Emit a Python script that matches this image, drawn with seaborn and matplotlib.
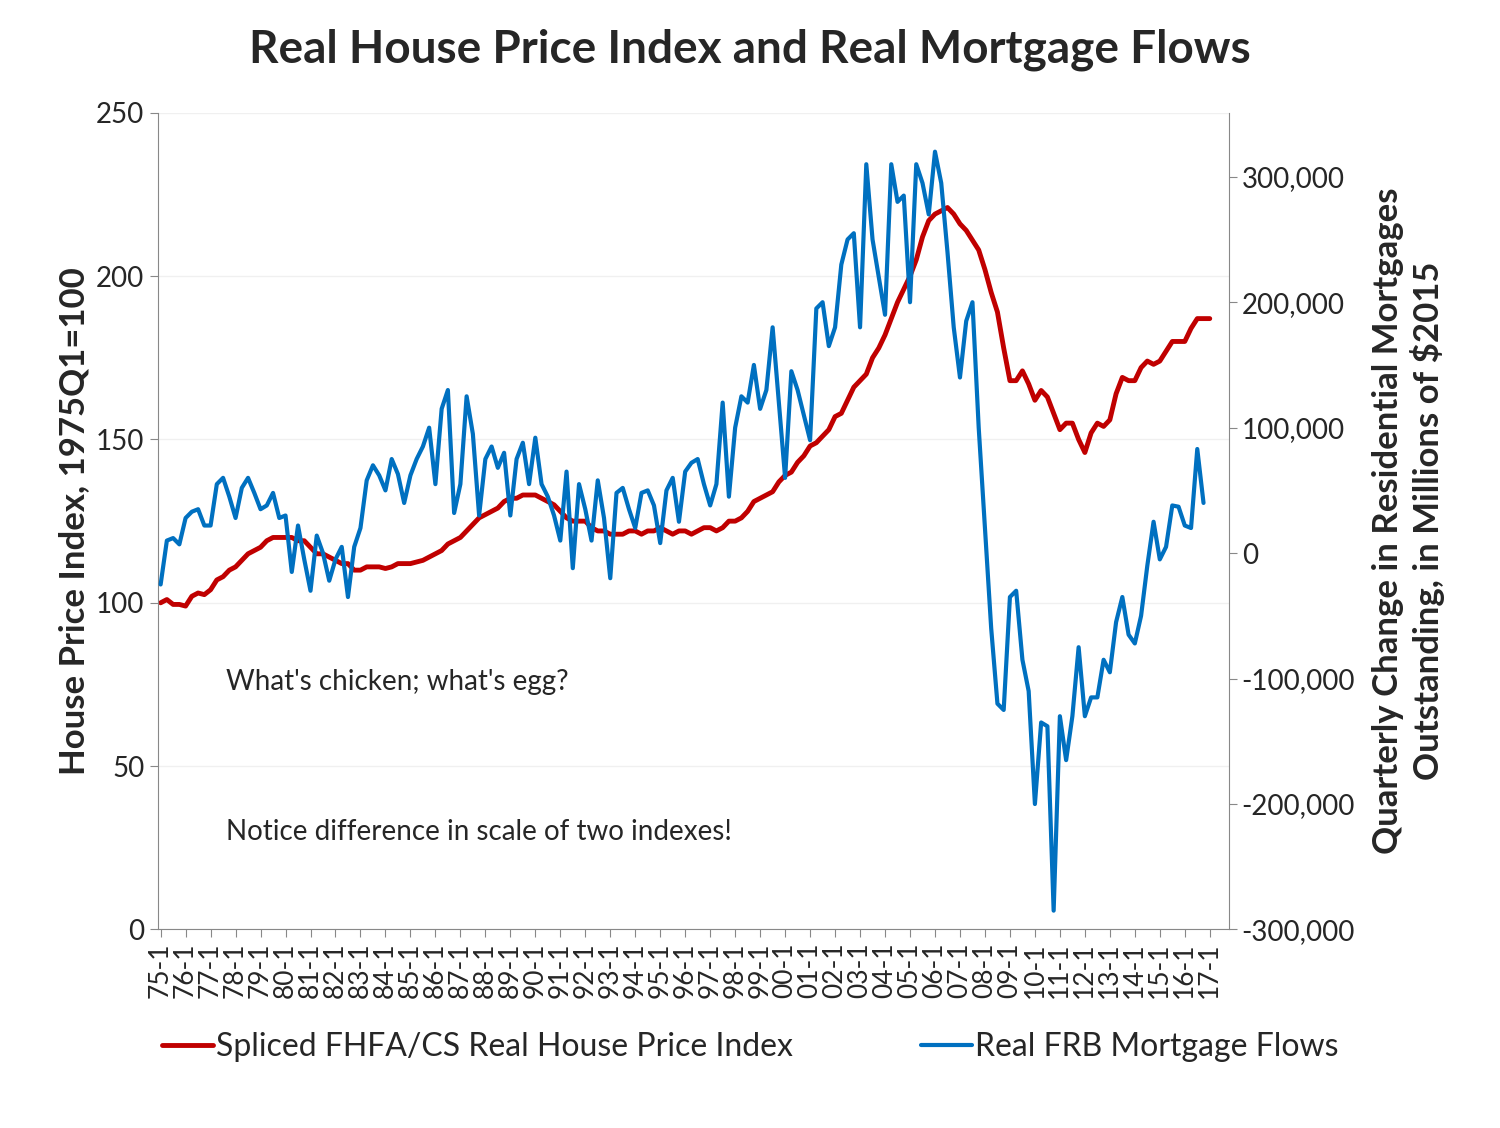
import matplotlib
matplotlib.use('Agg')
import matplotlib.pyplot as plt
import seaborn as sns
import pandas as pd
import numpy as np

# quarterly, 1975Q1 .. 2017Q1
hpi = [100, 101, 99.5, 99.5, 99, 102, 103, 102.5, 104, 107, 108, 110,
       111, 113, 115, 116, 117, 119, 120, 120, 120, 120, 119, 119,
       117, 115, 115, 114, 113, 112, 112, 110, 110, 111, 111, 111,
       110.5, 111, 112, 112, 112, 112.5, 113, 114, 115, 116, 118, 119,
       120, 122, 124, 126, 127, 128, 129, 131, 132, 132, 133, 133,
       133, 132, 131, 130, 128, 126, 125, 125, 125, 123, 122, 122,
       121, 121, 121, 122, 122, 121, 122, 122, 123, 122, 121, 122,
       122, 121, 122, 123, 123, 122, 123, 125, 125, 126, 128, 131,
       132, 133, 134, 137, 139, 140, 143, 145, 148, 149, 151, 153,
       157, 158, 162, 166, 168, 170, 175, 178, 182, 187, 192, 196,
       200, 205, 212, 217, 219, 220, 221, 219, 216, 214, 211, 208,
       202, 195, 189, 178, 168, 168, 171, 167, 162, 165, 163, 158,
       153, 155, 155, 150, 146, 152, 155, 154, 156, 164, 169, 168,
       168, 172, 174, 173, 174, 177, 180, 180, 180, 184, 187, 187,
       187]

# thousands of 2015 dollars, 1975Q1 .. 2016Q4
flows = [-25, 10, 12, 7, 28, 33, 35, 22, 22, 55, 60, 45, 28, 52, 60, 48,
         35, 38, 48, 28, 30, -15, 22, -5, -30, 14, 0, -22, -5, 5, -35, 5,
         20, 58, 70, 62, 50, 75, 63, 40, 62, 75, 85, 100, 55, 115, 130, 32,
         55, 125, 95, 30, 75, 85, 68, 80, 30, 75, 88, 55, 92, 55, 45, 30,
         10, 65, -12, 55, 35, 10, 58, 28, -20, 48, 52, 35, 20, 48, 50, 38,
         8, 50, 60, 25, 65, 72, 75, 55, 38, 55, 120, 45, 100, 125, 120, 150,
         115, 130, 180, 120, 60, 145, 130, 110, 90, 195, 200, 165,
         180, 230, 250, 255, 180, 310, 250, 220, 190, 310, 280, 285,
         200, 310, 295, 270, 320, 295, 240, 180, 140, 185, 200, 100,
         20, -60, -120, -125, -35, -30, -85, -110, -200, -135, -138, -285,
         -130, -165, -130, -75, -130, -115, -115, -85, -95, -55, -35, -65,
         -72, -50, -10, 25, -5, 5, 38, 37, 22, 20, 83, 40]

tick_labels = ['%02d-1' % (y % 100) for y in range(1975, 2018)]

df_hpi = pd.DataFrame({'q': np.arange(len(hpi)), 'v': hpi})
df_fl = pd.DataFrame({'q': np.arange(len(flows)), 'v': np.array(flows) * 1000})

sns.set_style('white')
plt.rcParams['font.family'] = ['Lato', 'DejaVu Sans']

fig = plt.figure(figsize=(15, 11.28), dpi=100)
ax = fig.add_axes([0.105, 0.176, 0.714, 0.724])
ax2 = ax.twinx()

red, blue = '#C00000', '#0070C0'
sns.lineplot(data=df_hpi, x='q', y='v', ax=ax, color=red, lw=3.5,
             label='Spliced FHFA/CS Real House Price Index', legend=False)
sns.lineplot(data=df_fl, x='q', y='v', ax=ax2, color=blue, lw=3,
             label='Real FRB Mortgage Flows', legend=False)

ax.set_ylim(0, 250)
ax.set_yticks(range(0, 251, 50))
ax2.set_ylim(-300000, 351000)
ax2.set_yticks(range(-300000, 300001, 100000))
ax2.set_yticklabels(['{:,}'.format(v) for v in range(-300000, 300001, 100000)])
ax.set_xlim(-0.5, 171)
ax.set_xticks(np.arange(0, 169, 4))
ax.set_xticklabels(tick_labels, rotation=90)
ax.yaxis.grid(True, color='#F0F0F0', lw=1)

for a in (ax, ax2):
    a.tick_params(labelsize=20, length=6, color='#888888', direction='out')
    for s in a.spines.values():
        s.set_visible(False)
ax.tick_params(axis='x', labelsize=19)
ax.spines['left'].set_visible(True)
ax.spines['bottom'].set_visible(True)
ax2.spines['right'].set_visible(True)
for s in (ax.spines['left'], ax.spines['bottom'], ax2.spines['right']):
    s.set_color('#888888')
ax.tick_params(axis='y', left=True)
ax.tick_params(axis='x', bottom=True)
ax2.tick_params(axis='y', right=True)

ax.set_xlabel('')
ax.set_ylabel('House Price Index, 1975Q1=100', fontsize=25, fontweight='bold')
ax2.set_ylabel('Quarterly Change in Residential Mortgages\nOutstanding, in Millions of $2015',
               fontsize=25, fontweight='bold', labelpad=12)

fig.suptitle('Real House Price Index and Real Mortgage Flows', fontsize=33,
             fontweight='bold', y=0.975)

fig.text(226 / 1500, 1 - 682 / 1128, "What's chicken; what's egg?", fontsize=20, va='center')
fig.text(226 / 1500, 1 - 832 / 1128, 'Notice difference in scale of two indexes!', fontsize=20, va='center')

h1, l1 = ax.get_legend_handles_labels()
h2, l2 = ax2.get_legend_handles_labels()
fig.legend(h1 + h2, l1 + l2, loc='center', bbox_to_anchor=(0.5, 1 - 1047 / 1128),
           ncol=2, frameon=False, fontsize=23, handlelength=1.6, columnspacing=4,
           handletextpad=0.1)

fig.savefig('out.png', dpi=100)
